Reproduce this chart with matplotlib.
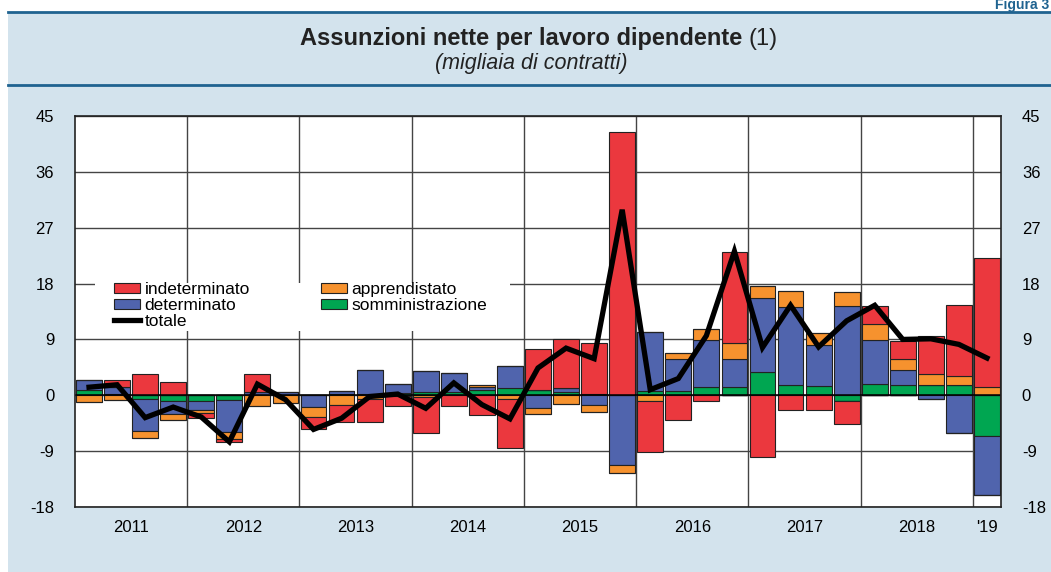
import numpy as np
import matplotlib.pyplot as plt
from matplotlib.patches import Patch, Rectangle
from matplotlib.lines import Line2D

plt.rcParams['font.family'] = ['Liberation Sans', 'DejaVu Sans']
plt.rcParams['axes.unicode_minus'] = False

# quarterly data, 2011 Q1 .. 2019 Q1 (thousands of contracts)
indeterminato = [0.0, 1.0, 3.4, 2.1, -0.8, -0.5, 2.85, 0.0, -2.0, -2.8, -3.6, -1.5,
                 -5.75, -1.7, -3.2, -7.85, 6.55, 7.75, 8.3, 42.5, -8.3, -4.0, -1.0, 14.75,
                 -9.9, -2.4, -2.3, -3.8, 3.0, 3.0, 6.2, 11.4, 20.7]
determinato = [1.6, 1.2, -5.05, -2.15, -1.55, -5.1, 0.55, 0.45, -1.95, 0.5, 3.8, 1.5,
               3.3, 3.05, 0.5, 3.6, -2.1, 0.65, -1.6, -11.3, 9.45, 5.05, 7.5, 4.5,
               11.9, 12.6, 6.5, 14.4, 7.1, 2.4, -0.55, -6.1, -9.55]
apprendistato = [-1.1, -0.75, -1.25, -1.05, -0.45, -1.25, -1.65, -1.25, -1.5, -1.55, -0.65, -0.15,
                 -0.3, 0.0, 0.3, -0.6, -0.9, -1.4, -1.15, -1.3, -0.9, 0.95, 1.8, 2.6,
                 1.9, 2.6, 2.0, 2.2, 2.6, 1.75, 1.75, 1.5, 1.35]
somministrazione = [0.8, 0.2, -0.65, -0.85, -0.9, -0.75, 0.0, 0.05, 0.0, 0.15, 0.25, 0.3,
                    0.6, 0.6, 0.85, 1.1, 0.85, 0.6, 0.2, 0.0, 0.7, 0.75, 1.4, 1.3,
                    3.8, 1.65, 1.55, -0.9, 1.75, 1.65, 1.65, 1.65, -6.5]
totale = [1.3, 1.7, -3.6, -1.9, -3.5, -7.5, 1.8, -0.7, -5.5, -3.7, -0.2, 0.2,
          -2.1, 2.0, -1.5, -3.8, 4.4, 7.6, 5.9, 29.9, 0.9, 2.7, 9.6, 23.2,
          7.7, 14.5, 7.8, 12.0, 14.5, 9.0, 9.1, 8.2, 6.0]
year_labels = ['2011', '2012', '2013', '2014', '2015', '2016', '2017', '2018', "'19"]

c_red = '#EB383E'
c_blue = '#5064AD'
c_orange = '#F6922E'
c_green = '#00A651'
bg = '#D3E3ED'
dark_blue = '#1F6390'
txt = '#222222'

W, H = 1051, 572
fig = plt.figure(figsize=(W / 100, H / 100), dpi=100)
fig.patch.set_facecolor('white')

# light blue panel and the two rules
fig.add_artist(Rectangle((8 / W, 0), 1 - 8 / W, 1 - 12 / H, transform=fig.transFigure,
                         facecolor=bg, edgecolor='none', zorder=-10))
for yy in (12, 85):
    fig.add_artist(Line2D([8 / W, 1], [1 - yy / H] * 2, transform=fig.transFigure,
                          color=dark_blue, lw=2))

fig.text(1049 / W, 1 - 9 / H, 'Figura 3', ha='right', va='baseline', fontsize=10,
         weight='bold', color=dark_blue)

ax = fig.add_axes([75 / W, 65 / H, 926 / W, 391 / H])
ax.set_xlim(0, 33)
ax.set_ylim(-18, 45)

x = np.arange(33) + 0.5
series = [(somministrazione, c_green), (determinato, c_blue),
          (apprendistato, c_orange), (indeterminato, c_red)]
pos_base = np.zeros(33)
neg_base = np.zeros(33)
for vals, col in series:
    v = np.array(vals)
    p = np.where(v > 0, v, 0)
    n = np.where(v < 0, v, 0)
    ax.bar(x, p, 0.92, bottom=pos_base, color=col, edgecolor=txt, lw=0.8, zorder=2)
    ax.bar(x, n, 0.92, bottom=neg_base, color=col, edgecolor=txt, lw=0.8, zorder=2)
    pos_base += p
    neg_base += n

ax.axhline(0, color='black', lw=1.1, zorder=2.5)
ax.plot(x, totale, color='black', lw=3.8, zorder=3, solid_joinstyle='miter')

ax.set_yticks(range(-18, 46, 9))
ax.set_xticks(range(4, 33, 4))
ax.set_xticklabels([])
ax.set_xticks([2, 6, 10, 14, 18, 22, 26, 30, 32.5], minor=True)
ax.set_xticklabels(year_labels, minor=True)
ax.tick_params(axis='x', which='both', length=0, labelsize=12, pad=9)
ax.tick_params(axis='y', length=0, labelsize=12, labelleft=True, labelright=True, pad=15)
ax.set_axisbelow(True)
ax.grid(True, which='major', color='#444444', lw=1)
for s in ax.spines.values():
    s.set_color(txt)
    s.set_linewidth(1.2)

# white box behind the legend
ax.add_patch(Rectangle(((95 - 75) / 926, (507 - 331) / 391), 415 / 926, 48 / 391,
                       transform=ax.transAxes, facecolor='white', edgecolor='none', zorder=1))
handles = [Patch(facecolor=c_red, edgecolor=txt, lw=0.8, label='indeterminato'),
           Patch(facecolor=c_blue, edgecolor=txt, lw=0.8, label='determinato'),
           Line2D([], [], color='black', lw=3.8, label='totale'),
           Patch(facecolor=c_orange, edgecolor=txt, lw=0.8, label='apprendistato'),
           Patch(facecolor=c_green, edgecolor=txt, lw=0.8, label='somministrazione')]
ax.legend(handles=handles, ncol=2, loc='upper left',
          bbox_to_anchor=((114 - 75) / 926, (507 - 282) / 391), frameon=False,
          fontsize=12.5, borderpad=0, borderaxespad=0, handlelength=1.5, handleheight=0.5,
          handletextpad=0.25, labelspacing=0.05, columnspacing=4.1)

# title: bold part + normal "(1)"
fs_title = 17
fig.canvas.draw()
r = fig.canvas.get_renderer()
tmp_b = fig.text(0, 0, 'Assunzioni nette per lavoro dipendente ', fontsize=fs_title, weight='bold')
tmp_n = fig.text(0, 0, '(1)', fontsize=fs_title)
wb = tmp_b.get_window_extent(r).width
wn = tmp_n.get_window_extent(r).width
tmp_b.remove()
tmp_n.remove()
x0 = 539 - (wb + wn) / 2
fig.text(x0 / W, 1 - 45 / H, 'Assunzioni nette per lavoro dipendente ', fontsize=fs_title,
         weight='bold', va='baseline', color=txt)
fig.text((x0 + wb) / W, 1 - 45 / H, '(1)', fontsize=fs_title, va='baseline', color=txt)
fig.text(531 / W, 1 - 69 / H, '(migliaia di contratti)', fontsize=15.5, style='italic',
         ha='center', va='baseline', color=txt)

fig.savefig('out.png', dpi=100)
